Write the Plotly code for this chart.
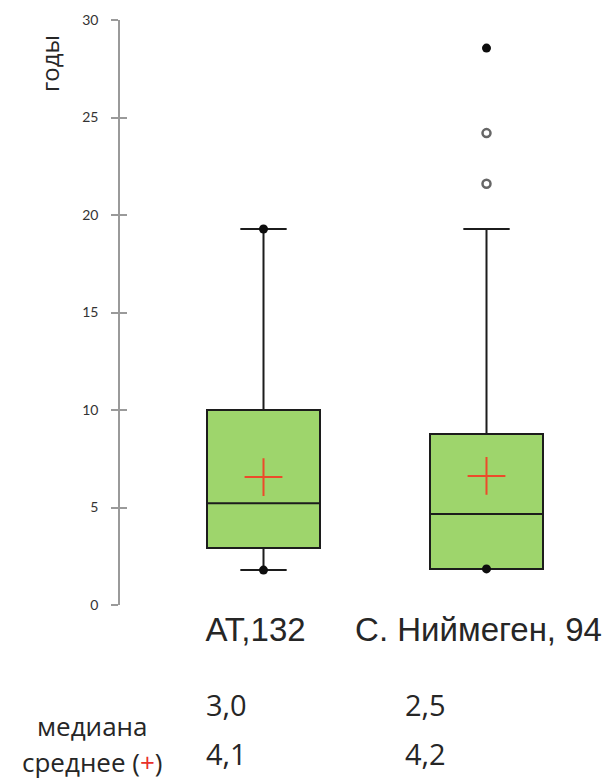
import plotly.graph_objects as go

# Groups (position on the x axis = index)
groups = ["АТ,132", "С. Ниймеген, 94"]
group_pos = [0, 1]

# Box statistics, years
lower_whisker = [1.79, 1.85]
q1 = [2.92, 1.85]
median = [5.22, 4.67]
q3 = [10.0, 8.77]
upper_whisker = [19.28, 19.28]
mean = [6.56, 6.62]

# Extreme values (min / max) drawn as filled dots
extreme_x = [0, 0, 1, 1]
extreme_y = [19.28, 1.79, 1.85, 28.56]

# Outliers drawn as open circles
outlier_x = [1, 1]
outlier_y = [24.2, 21.6]

# Summary table under the chart
table_rows = ["медиана", "среднее (<span style='color:#E8302A'>+</span>)"]
median_text = ["3,0", "2,5"]
mean_text = ["4,1", "4,2"]

y_ticks = [0, 5, 10, 15, 20, 25, 30]

W, H = 615, 780
ML, MR, MT, MB = 120, 0, 20, 175
plot_w = W - ML - MR
plot_h = H - MT - MB

# x range chosen so that 1 unit = 223 px and the first box sits at px 263.5
unit = 223.0
x0 = -(263.5 - ML) / unit
x1 = x0 + plot_w / unit


def px_x(p):
    return (p - ML) / plot_w


def px_y(p):
    return (H - MB - p) / plot_h


fig = go.Figure()

for i in range(len(groups)):
    fig.add_trace(go.Box(
        x=[group_pos[i]],
        q1=[q1[i]], median=[median[i]], q3=[q3[i]],
        lowerfence=[lower_whisker[i]], upperfence=[upper_whisker[i]],
        width=113 / unit,
        whiskerwidth=0.41,
        fillcolor="#9ED56C",
        line=dict(color="#1c1c1c", width=2),
        boxpoints=False,
        hoverinfo="skip",
        showlegend=False,
    ))

fig.add_trace(go.Scatter(
    x=extreme_x, y=extreme_y, mode="markers", yaxis="y2",
    marker=dict(symbol="circle", size=9, color="#0d0d0d"),
    showlegend=False, hoverinfo="skip",
))

fig.add_trace(go.Scatter(
    x=outlier_x, y=outlier_y, mode="markers", yaxis="y2",
    marker=dict(symbol="circle-open", size=8, color="#666666",
                line=dict(width=2.5, color="#666666")),
    showlegend=False, hoverinfo="skip",
))

fig.add_trace(go.Scatter(
    x=group_pos, y=mean, mode="markers", yaxis="y2",
    marker=dict(symbol="cross-thin", size=27,
                line=dict(width=2, color="#EC4B2A")),
    showlegend=False, hoverinfo="skip",
))

annotations = [
    dict(text="годы", textangle=-90, xref="paper", yref="paper",
         x=px_x(50), y=px_y(64), xanchor="center", yanchor="middle",
         showarrow=False, font=dict(family="Open Sans", size=24, color="#262626")),
]

row_y = [726, 762]
for r, label in enumerate(table_rows):
    annotations.append(dict(
        text=label, xref="paper", yref="paper", x=px_x(92), y=px_y(row_y[r]),
        xanchor="center", yanchor="middle", showarrow=False,
        font=dict(family="Open Sans", size=26, color="#262626")))

num_x = [226, 425]
num_y = [704, 753]
for i in range(len(groups)):
    for r, txt in enumerate([median_text[i], mean_text[i]]):
        annotations.append(dict(
            text=txt, xref="paper", yref="paper", x=px_x(num_x[i]), y=px_y(num_y[r]),
            xanchor="center", yanchor="middle", showarrow=False,
            font=dict(family="Open Sans", size=29, color="#262626")))

axis_common = dict(range=[0, 30], tickvals=y_ticks, showgrid=False, zeroline=False)

fig.update_layout(
    width=W, height=H,
    margin=dict(l=ML, r=MR, t=MT, b=MB, pad=0),
    paper_bgcolor="white", plot_bgcolor="white",
    xaxis=dict(range=[x0, x1], tickvals=group_pos, ticktext=groups,
               showgrid=False, zeroline=False, showline=False, ticks="",
               tickfont=dict(family="Liberation Sans", size=33, color="#262626"),
               ticklabelshift=-8, ticklabelstandoff=2),
    yaxis=dict(**axis_common, showline=True, linecolor="#9a9a9a", linewidth=1.5,
               ticks="outside", ticklen=7, tickwidth=1.5, tickcolor="#9a9a9a",
               ticklabelstandoff=10,
               tickfont=dict(family="Lato", size=14, color="#333333")),
    yaxis2=dict(**axis_common, overlaying="y", side="left", anchor="x",
                showline=False, ticks="inside", ticklen=7, tickwidth=1.5,
                tickcolor="#9a9a9a", showticklabels=False),
    annotations=annotations,
    showlegend=False,
)

fig.write_html("out.html")
